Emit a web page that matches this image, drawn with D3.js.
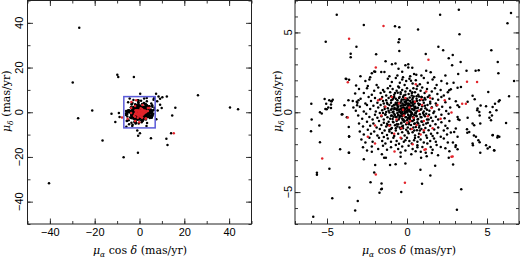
<!DOCTYPE html>
<html>
<head>
<meta charset="utf-8">
<script src="https://cdn.jsdelivr.net/npm/d3@7"></script>
<style>
body { margin: 0; background: #fff; }
</style>
</head>
<body>
<div id="container"></div>
<script>
/* CONSTANTS AND GLOBALS */
const width = 520, height = 257;

// proper motions (mas/yr), [mu_a cos d, mu_d]
const outerStars = [
  [-26.9,37.8],[-29.8,13.3],[-9.9,16.8],[-9.5,15.8],[-2.5,15.8],[-21.1,0.8],[-27.4,-2.7],[-12.5,-0.7],
  [-10.8,-4.4],[-9.2,-0.3],[-8.9,-2.1],[-16.5,-12.6],[-7.1,-20.1],[-0.7,-18.1],[-0.6,-10.5],[0.2,-9.4],
  [-1.0,-8.2],[5.1,-11.6],[12.0,-11.9],[12.5,-14.7],[14.1,-9.4],[14.6,-1.5],[16.0,2.0],[26.1,7.6],
  [40.4,2.1],[44.0,1.3],[-40.4,-31.8],[0.3,8.3],[7.4,8.3],[8.5,7.1],[9.2,6.0],[10.2,6.7],[12.2,7.1],
  [7.9,4.9],[9.2,3.4],[9.9,1.9],[8.1,0.8],[7.5,-3.1]
];

const haloStars = [
  [-4.39,6.1],[-2.7,5.46],[-0.75,5.38],[-0.48,5.33],[-5.08,4.42],[-3.16,4.1],[-0.48,4.58],[-0.53,4.38],
  [-0.48,3.83],[-3.52,3.67],[-3.52,3.44],[-1.93,3.63],[-1.34,3.19],[-0.94,3.0],[-0.72,3.06],[-0.1,2.94],
  [-0.53,2.73],[-1.99,2.53],[-2.05,2.56],[-1.61,2.52],[-1.41,2.52],[-0.3,2.54],
  [3.24,6.42],[2.07,6.1],[6.5,6.21],[6.28,5.58],[0.69,5.19],[3.28,4.88],[1.96,4.1],[2.26,3.88],[5.27,3.88],
  [1.17,3.65],[2.86,3.58],[2.61,3.38],[3.35,3.15],[5.67,3.15],[2.82,2.94],[0.08,3.0],[0.08,2.8],[0.33,2.79],
  [1.48,2.5],[3.72,2.6],[4.48,2.63],[5.71,2.44],[3.2,2.4],[0.44,2.4],[0.58,2.35],
  [0.27,-2.63],[0.54,-2.44],[0.86,-2.48],[1.17,-2.54],[1.23,-2.75],[1.55,-2.56],[1.94,-2.69],[0.88,-2.85],
  [2.61,-2.85],[2.88,-3.27],[1.76,-3.35],[0.84,-3.6],[1.46,-3.96],[0.94,-4.48],[4.58,-2.54],[5.46,-2.4],
  [3.39,-4.83],[3.12,-6.1],
  [-3.64,-2.54],[-5.63,-3.79],[-5.63,-3.92],[-4.85,-3.54],[-2.7,-2.94],[-2.2,-2.48],[-1.57,-2.63],
  [-1.43,-2.85],[-1.32,-2.85],[-0.4,-2.52],[-0.4,-2.79],[-1.99,-3.31],[-1.06,-3.31],[-0.71,-3.25],
  [-0.1,-3.21],[-2.05,-3.77],[-2.28,-4.38],[-1.59,-4.46],[-1.57,-4.79],[-1.61,-4.83],[-1.72,-5.04],
  [-0.36,-5.0],[-3.6,-4.71],[-4.67,-5.38],[-3.08,-5.56],[-3.24,-6.15],[-5.86,-6.54],
  [-5.98,0.54],[-5.96,-0.46],[-6.0,-1.19],[-5.48,-0.83],[-5.44,-1.88],[-5.15,0.83],[-5.1,0.21],[-5.33,-0.08],
  [-4.92,0.29],[-4.73,0.69],[-4.64,0.79],[-4.18,-2.31],[-4.04,-0.13],[-3.79,2.08],[-3.62,2.04],[-3.76,-0.31],
  [-3.64,-0.92],[-3.62,-1.5],[-3.62,-2.54],[-3.91,0.44],[-2.91,2.25],[-3.18,1.67],[-3.39,0.71],[-3.83,2.1],
  [-3.24,1.17],[-3.66,0.75],[-3.03,0.75],[-3.14,0.65],[-4.86,0.75],[-4.71,0.69],[-5.05,0.54],[-4.75,0.48],
  [-5.44,0.0],[-5.02,0.19],[-4.75,0.27],[-4.08,-0.14],[-3.35,0.29],[-3.12,0.44],[-3.62,-1.54],
  [6.69,1.96],[6.38,1.0],[5.79,0.75],[5.73,0.67],[5.59,0.13],[5.19,0.0],[5.31,-0.21],[5.08,1.27],
  [6.19,-0.67],[5.36,-1.42],[5.65,-1.58],[5.17,-2.17],[5.44,-2.38],[4.54,-1.88],[4.12,-2.06],[4.18,-1.46],
  [3.77,-1.29],[4.29,2.6],[4.1,1.04],[4.23,0.81],[4.6,0.42],[4.94,0.38],[4.39,0.13],[4.54,-0.21],[4.58,-0.71],
  [3.28,-0.48],[3.05,-1.02],[3.03,-2.17],[2.87,-1.9],
  [2.91,1.85],[2.64,1.38],[2.74,1.44],[3.16,1.54],[3.37,1.58],[5.5,0.54],[5.35,0.33],[3.05,0.69],[3.16,0.44],
  [3.26,0.33],[3.79,0.65],[4.41,0.23],[4.52,0.02],[3.79,-0.35],[3.16,-0.29],[3.2,-0.44],[4.1,-0.71],
  [4.2,-0.81],[5.15,-0.35],[5.25,-0.5],[5.67,-1.48],[5.77,-1.54],[5.35,-1.44],[4.31,-1.54],[4.46,-1.75],
  [3.75,-1.06],[3.89,-1.23],[2.95,-1.23],[3.16,-1.54],[2.53,-1.0],[2.74,-1.27],[2.11,-1.54],[2.11,-2.17],
  [3.05,-2.06],[3.16,-2.31],[4.94,-2.06],[5.04,-2.27],[4.1,-1.96],[1.69,-1.65],[1.8,-1.85],[1.27,-1.96],
  [1.48,-2.17],[0.96,-2.17],[0.65,-2.06],[0.44,-1.75]
];

const coreStars = [
  [-0.6,2.3],[-1.1,2.25],[0.9,2.3],[1.2,2.6],[-0.25,2.2],[0.2,2.25],[-2.3,2.2],[-2.2,2.45],[1.7,2.2],[2.4,2.3],
  [-2.6,1.95],[-2.35,2.05],[-1.2,2.1],[-0.95,1.9],[-0.7,2.15],[-0.45,1.85],[-0.3,2.05],[-0.05,1.95],[0.15,2.1],
  [0.35,1.8],[0.55,2.0],[0.8,1.75],[1.05,2.15],[1.3,1.85],[1.6,2.05],[1.85,1.7],[2.15,1.95],[2.5,1.8],
  [-1.9,1.7],[-2.45,1.65],[-0.15,1.7],[0.65,1.65],[-1.05,1.65],[0.25,1.98],[-0.55,1.62],
  [-3.0,1.45],[-2.7,1.2],[-2.5,1.5],[-2.2,1.1],[-2.05,1.35],[-1.8,1.55],[-1.65,1.2],[-1.5,1.4],[-1.3,1.05],
  [-1.2,1.5],[-1.05,1.25],[-0.9,1.45],[-0.8,1.1],[-0.65,1.35],[-0.5,1.55],[-0.4,1.15],[-0.3,1.4],[-0.2,1.05],
  [-0.1,1.3],[0.0,1.5],[0.1,1.15],[0.2,1.35],[0.3,1.05],[0.4,1.5],[0.5,1.25],[0.6,1.45],[0.7,1.1],[0.85,1.35],
  [0.95,1.55],[1.1,1.2],[1.25,1.45],[1.4,1.05],[1.55,1.3],[1.75,1.5],[1.9,1.15],[2.1,1.4],[2.3,1.05],
  [2.55,1.25],[-0.58,1.22],[0.33,1.26],[-1.42,1.28],
  [-3.1,0.6],[-2.9,0.85],[-2.6,0.55],[-2.4,0.95],[-2.25,0.7],[-2.0,0.9],[-1.85,0.6],[-1.7,0.8],[-1.55,0.95],
  [-1.45,0.55],[-1.3,0.75],[-1.15,0.9],[-1.0,0.6],[-0.9,0.8],[-0.8,0.95],[-0.7,0.55],[-0.6,0.75],[-0.5,0.9],
  [-0.42,0.6],[-0.33,0.8],[-0.25,0.95],[-0.15,0.65],[-0.08,0.85],[0.0,0.55],[0.08,0.75],[0.17,0.92],[0.25,0.6],
  [0.33,0.8],[0.42,0.98],[0.5,0.65],[0.6,0.85],[0.7,0.55],[0.8,0.75],[0.92,0.95],[1.05,0.6],[1.15,0.8],
  [1.3,0.95],[1.45,0.65],[1.6,0.85],[1.8,0.55],[1.95,0.78],[2.15,0.95],[2.4,0.62],[2.65,0.85],[-0.55,0.52],
  [0.12,0.5],[-1.22,0.52],[0.75,0.98],[-0.05,0.7],[0.38,0.68],
  [-3.2,0.1],[-2.95,0.35],[-2.7,0.05],[-2.5,0.45],[-2.3,0.2],[-2.1,0.4],[-1.95,0.05],[-1.8,0.3],[-1.65,0.45],
  [-1.55,0.12],[-1.4,0.35],[-1.3,0.02],[-1.2,0.25],[-1.1,0.45],[-1.0,0.15],[-0.92,0.38],[-0.85,0.05],
  [-0.78,0.28],[-0.7,0.48],[-0.62,0.12],[-0.55,0.35],[-0.48,0.02],[-0.4,0.22],[-0.33,0.42],[-0.27,0.1],
  [-0.2,0.3],[-0.13,0.48],[-0.07,0.05],[0.0,0.25],[0.06,0.4],[0.12,0.1],[0.18,0.32],[0.25,0.02],[0.32,0.2],
  [0.38,0.45],[0.45,0.12],[0.52,0.35],[0.6,0.05],[0.68,0.28],[0.75,0.45],[0.85,0.15],[0.95,0.38],[1.05,0.05],
  [1.15,0.25],[1.28,0.45],[1.4,0.1],[1.55,0.32],[1.7,0.05],[1.85,0.42],[2.0,0.18],[2.2,0.35],[2.45,0.08],
  [2.7,0.3],[-0.35,0.15],[-0.15,0.2],[0.05,0.15],[-0.6,0.25],[0.22,0.42],[-0.95,0.22],[0.48,0.25],
  [-3.05,-0.2],[-2.8,-0.4],[-2.55,-0.1],[-2.35,-0.3],[-2.15,-0.45],[-2.0,-0.15],[-1.85,-0.35],[-1.7,-0.05],
  [-1.6,-0.25],[-1.45,-0.45],[-1.35,-0.12],[-1.22,-0.32],[-1.1,-0.02],[-1.0,-0.22],[-0.9,-0.42],[-0.8,-0.1],
  [-0.72,-0.3],[-0.63,-0.48],[-0.55,-0.15],[-0.47,-0.35],[-0.38,-0.05],[-0.3,-0.25],[-0.22,-0.45],[-0.14,-0.1],
  [-0.06,-0.32],[0.02,-0.02],[0.1,-0.2],[0.18,-0.42],[0.26,-0.12],[0.35,-0.3],[0.43,-0.48],[0.52,-0.05],
  [0.6,-0.25],[0.7,-0.42],[0.8,-0.12],[0.9,-0.32],[1.0,-0.05],[1.12,-0.25],[1.25,-0.45],[1.38,-0.15],
  [1.5,-0.35],[1.65,-0.05],[1.8,-0.28],[1.95,-0.45],[2.15,-0.15],[2.35,-0.38],[2.6,-0.1],[-0.42,-0.2],
  [0.05,-0.4],[-0.85,-0.28],[0.45,-0.18],[-1.5,-0.05],[1.2,-0.1],[-0.2,-0.15],[0.3,-0.05],
  [-3.0,-0.7],[-2.75,-0.9],[-2.5,-0.6],[-2.3,-0.85],[-2.1,-0.7],[-1.9,-0.95],[-1.75,-0.55],[-1.6,-0.8],
  [-1.45,-0.65],[-1.3,-0.9],[-1.15,-0.6],[-1.05,-0.8],[-0.95,-0.98],[-0.85,-0.62],[-0.75,-0.82],[-0.65,-0.55],
  [-0.55,-0.75],[-0.45,-0.95],[-0.35,-0.65],[-0.25,-0.85],[-0.15,-0.55],[-0.05,-0.75],[0.05,-0.95],[0.15,-0.6],
  [0.25,-0.8],[0.35,-0.55],[0.45,-0.72],[0.55,-0.92],[0.65,-0.62],[0.78,-0.85],[0.9,-0.58],[1.02,-0.78],
  [1.15,-0.98],[1.3,-0.65],[1.45,-0.85],[1.6,-0.55],[1.78,-0.75],[1.95,-0.95],[2.15,-0.62],[2.4,-0.85],
  [2.65,-0.55],[-0.6,-0.9],[0.1,-0.7],[0.7,-0.7],[-1.25,-0.72],
  [-2.95,-1.2],[-2.7,-1.4],[-2.45,-1.1],[-2.25,-1.35],[-2.05,-1.2],[-1.85,-1.45],[-1.7,-1.05],[-1.55,-1.3],
  [-1.4,-1.15],[-1.25,-1.42],[-1.1,-1.1],[-0.95,-1.3],[-0.8,-1.48],[-0.7,-1.15],[-0.55,-1.35],[-0.4,-1.05],
  [-0.3,-1.25],[-0.15,-1.45],[-0.05,-1.1],[0.1,-1.32],[0.22,-1.05],[0.35,-1.25],[0.5,-1.45],[0.62,-1.12],
  [0.75,-1.35],[0.9,-1.05],[1.05,-1.25],[1.2,-1.45],[1.35,-1.12],[1.5,-1.35],[1.7,-1.08],[1.9,-1.3],
  [2.3,-1.15],[2.5,-1.4],[-0.25,-1.0],[0.45,-1.15],[-1.0,-1.05],[1.6,-1.48],
  [-2.85,-1.7],[-2.6,-1.9],[-2.35,-1.6],[-2.15,-1.85],[-1.75,-1.6],[-1.55,-1.8],[-1.35,-1.95],[-1.2,-1.65],
  [-1.0,-1.85],[-0.85,-1.6],[-0.65,-1.8],[-0.5,-1.98],[-0.35,-1.65],[-0.2,-1.85],[0.0,-1.6],[0.15,-1.8],
  [0.3,-1.95],[0.5,-1.62],[0.65,-1.85],[0.85,-1.7],[1.05,-1.9],[1.25,-1.6],[1.45,-1.8],[2.3,-1.65],
  [2.55,-1.9],[-1.45,-1.55],[0.72,-1.55],[-0.1,-1.75],
  [-2.75,-2.2],[-2.5,-2.4],[-2.2,-2.15],[-1.8,-2.3],[-1.5,-2.1],[-1.25,-2.35],[-1.0,-2.2],[-0.7,-2.05],
  [-0.55,-2.3],[-0.3,-2.15],[-0.1,-2.4],[0.1,-2.1],[0.35,-2.3],[0.65,-2.2],[1.6,-2.35],[1.85,-2.05],
  [2.4,-2.25],[2.65,-2.45]
];

// densest part of the cluster, round (-0.2, 0.1)
const nucleusStars = [
  [-1.25,0.6],[-1.15,0.1],[-1.05,-0.4],[-0.98,0.75],[-0.9,0.0],[-0.88,-0.6],[-0.82,0.45],[-0.76,-0.18],
  [-0.7,0.85],[-0.68,0.2],[-0.64,-0.75],[-0.6,-0.05],[-0.57,0.6],[-0.52,-0.45],[-0.5,0.15],[-0.46,0.95],
  [-0.44,-0.25],[-0.4,0.4],[-0.37,-0.7],[-0.35,0.7],[-0.32,0.0],[-0.3,-0.4],[-0.28,0.55],[-0.25,0.3],
  [-0.23,-0.1],[-0.2,0.8],[-0.18,-0.6],[-0.16,0.1],[-0.12,0.45],[-0.1,-0.3],[-0.08,0.62],[-0.05,0.0],
  [-0.03,0.3],[0.0,-0.5],[0.02,0.85],[0.04,0.12],[0.07,-0.15],[0.1,0.55],[0.12,-0.75],[0.15,0.2],
  [0.18,-0.3],[0.2,0.7],[0.24,0.05],[0.27,-0.55],[0.3,0.4],[0.33,-0.1],[0.36,0.9],[0.4,0.15],[0.43,-0.35],
  [0.47,0.55],[0.5,-0.7],[0.55,0.25],[0.58,-0.2],[0.62,0.7],[0.66,-0.45],[0.7,0.1],[0.75,-0.95],[0.8,0.5],
  [0.85,-0.3],[0.9,0.2],[0.95,-0.6],[1.0,0.75],[1.05,-0.15],[1.12,0.4],[1.2,-0.7],[1.25,0.15],[-1.35,-0.15],
  [-1.4,0.2],[-1.2,-0.8],[-1.0,1.0],[-0.75,1.2],[-0.4,1.25],[-0.1,1.1],[0.3,1.2],[0.6,1.0],[0.9,0.95],
  [-1.5,0.7],[-1.1,-1.2],[-0.7,-1.0],[-0.3,-0.9],[0.05,-1.2],[0.4,-0.95],[0.8,-1.15],[1.35,-0.45],[1.45,0.55],
  [-0.55,-0.2],[-0.15,-0.05],[0.15,0.35],[-0.35,0.25],[-0.45,0.05],[0.0,0.1],[-0.22,0.45],[0.08,-0.35],
  [-0.6,0.4],[-0.8,0.2],[-0.65,-0.3],[0.25,-0.2],[0.45,0.35],[-0.05,0.5],[-0.3,-0.15],[-0.12,0.2],[0.18,0.05],
  [-0.42,0.6],[-0.95,-0.2],[-0.25,-0.5],[0.55,-0.05],[0.35,0.6],[-0.7,0.6],[-0.85,0.9],[1.1,0.9]
];

const redStars = [
  [-7.8,-2.4],[15.3,-9.4],
  [-1.47,5.4],[-3.62,4.6],[-1.95,2.81],[1.34,3.29],[-3.7,1.88],[-3.7,-0.33],[-5.3,-2.9],[-1.95,-3.9],
  [-0.13,-4.42],[2.78,-2.79],[-0.78,-2.46],[3.75,1.91],[4.38,1.9],[3.68,0.54],[2.78,-0.02],[1.17,-2.31],
  [-2.45,-1.54],[-2.0,-1.96],[-2.0,-0.83],
  [-1.6,-0.2],[-1.35,0.35],[-1.1,-0.85],[-0.95,0.95],[-0.8,-1.35],[-0.65,-0.45],[-0.5,0.55],[-0.35,-1.0],
  [-0.2,-0.2],[-0.1,0.9],[0.0,-0.65],[0.15,0.3],[0.3,-1.05],[0.4,-0.35],[0.5,0.65],[0.6,-0.8],[0.75,0.1],
  [0.85,-1.4],[0.95,0.45],[1.05,-0.55],[1.2,1.3],[1.3,-0.25],[1.45,0.9],[1.53,0.27],[1.6,-1.0],[1.9,0.45],
  [2.36,0.75],[2.1,-0.4],[0.9,0.81],[1.05,-1.12],[1.09,-2.35],[-0.25,0.15],[0.2,-0.55],[-1.8,0.75],
  [-1.6,0.85],[0.55,1.75],[-0.4,-1.6],[0.35,-2.0],[3.45,0.54],[2.85,-2.77]
];

const blackStars = outerStars.concat(haloStars, coreStars, nucleusStars);

// zoom box drawn on the wide panel
const boxLimit = 7;

// panel set-up
const panels = [
  { id: "wide", dom: [-50, 50], major: [-40, -20, 0, 20, 40], minor: d3.range(-50, 51, 10),
    left: 27.5, right: 251.5, cx: 140, titleOff: 17.5, labelOff: 5, box: true },
  { id: "zoom", dom: [-7, 7], major: [-5, 0, 5], minor: d3.range(-7, 8, 1),
    left: 295, right: 519, cx: 409, titleOff: 14, labelOff: 3.5, box: false }
];
const frameTop = 0.5, frameBottom = 224;

const svg = d3.select("#container")
  .append("svg")
  .attr("width", width)
  .attr("height", height)
  .style("font-family", "'Liberation Sans', Arial, sans-serif");

panels.forEach(p => {
  const x = d3.scaleLinear().domain(p.dom).range([p.left, p.right]);
  const y = d3.scaleLinear().domain(p.dom).range([frameBottom, frameTop]);

  const g = svg.append("g");

  g.append("clipPath").attr("id", "clip-" + p.id)
    .append("rect")
    .attr("x", p.left).attr("y", frameTop)
    .attr("width", p.right - p.left).attr("height", frameBottom - frameTop);

  const dots = g.append("g").attr("clip-path", `url(#clip-${p.id})`);

  dots.selectAll("circle.blk")
    .data(blackStars)
    .join("circle")
    .attr("class", "blk")
    .attr("cx", d => x(d[0]))
    .attr("cy", d => y(d[1]))
    .attr("r", 1.25)
    .attr("fill", "#000");

  dots.selectAll("circle.red")
    .data(redStars)
    .join("circle")
    .attr("class", "red")
    .attr("cx", d => x(d[0]))
    .attr("cy", d => y(d[1]))
    .attr("r", 1.25)
    .attr("fill", "#e3242b");

  if (p.box) {
    g.append("rect")
      .attr("x", x(-boxLimit)).attr("y", y(boxLimit))
      .attr("width", x(boxLimit) - x(-boxLimit))
      .attr("height", y(-boxLimit) - y(boxLimit))
      .attr("fill", "none")
      .attr("stroke", "#5b5bd8")
      .attr("stroke-width", 1.5);
  }

  // inward ticks on all four sides
  const tickAxes = [
    { gen: d3.axisBottom(x), tr: `translate(0,${frameBottom})` },
    { gen: d3.axisTop(x), tr: `translate(0,${frameTop})` },
    { gen: d3.axisLeft(y), tr: `translate(${p.left},0)` },
    { gen: d3.axisRight(y), tr: `translate(${p.right},0)` }
  ];
  tickAxes.forEach(a => {
    [[p.minor, 3], [p.major, 5.5]].forEach(([vals, len]) => {
      const ag = g.append("g")
        .attr("transform", a.tr)
        .call(a.gen.tickValues(vals).tickSize(-len).tickFormat(""));
      ag.select(".domain").remove();
      ag.selectAll("line").attr("stroke", "#222").attr("stroke-width", 0.9);
    });
  });

  // frame
  g.append("rect")
    .attr("x", p.left).attr("y", frameTop)
    .attr("width", p.right - p.left).attr("height", frameBottom - frameTop)
    .attr("fill", "none")
    .attr("stroke", "#222")
    .attr("stroke-width", 1);

  // x tick labels
  const xl = g.append("g")
    .attr("transform", `translate(0,${frameBottom})`)
    .call(d3.axisBottom(x).tickValues(p.major).tickSize(0).tickPadding(4.5));
  xl.select(".domain").remove();
  xl.selectAll("text")
    .attr("font-size", 11)
    .attr("font-family", "'Liberation Sans', Arial, sans-serif")
    .attr("fill", "#000");

  // y tick labels, rotated along the axis
  g.append("g").selectAll("text")
    .data(p.major)
    .join("text")
    .attr("transform", d => `translate(${p.left - p.labelOff},${y(d)}) rotate(-90)`)
    .attr("text-anchor", "middle")
    .attr("font-size", 11)
    .attr("fill", "#000")
    .text(d => d3.format("d")(d));

  // x title
  const xt = g.append("text")
    .attr("x", p.cx)
    .attr("y", 254)
    .attr("text-anchor", "middle")
    .attr("font-family", "'DejaVu Serif', 'Liberation Serif', serif")
    .attr("font-size", 11)
    .attr("fill", "#000");
  xt.append("tspan").attr("font-style", "italic").text("μ");
  xt.append("tspan").attr("font-style", "italic").attr("font-size", 7.5).attr("dy", 2.5).text("α");
  xt.append("tspan").attr("dy", -2.5).text(" cos ");
  xt.append("tspan").attr("font-style", "italic").text("δ");
  xt.append("tspan").text(" (mas/yr)");

  // y title
  const yt = g.append("text")
    .attr("transform", `translate(${p.left - p.titleOff},${(frameTop + frameBottom) / 2 - 11}) rotate(-90)`)
    .attr("text-anchor", "middle")
    .attr("font-family", "'DejaVu Serif', 'Liberation Serif', serif")
    .attr("font-size", 11)
    .attr("fill", "#000");
  yt.append("tspan").attr("font-style", "italic").text("μ");
  yt.append("tspan").attr("font-style", "italic").attr("font-size", 7.5).attr("dy", 2.5).text("δ");
  yt.append("tspan").attr("dy", -2.5).text(" (mas/yr)");
});
</script>
</body>
</html>
